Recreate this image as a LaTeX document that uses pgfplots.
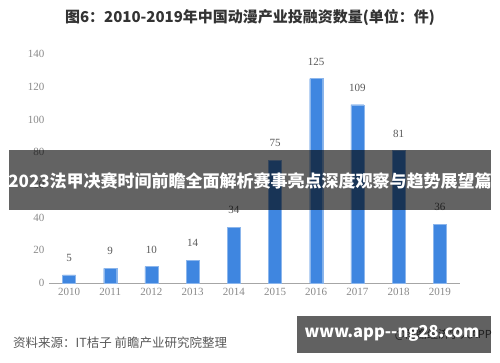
\documentclass[border=0pt]{standalone}
\usepackage{pgfplots}
\pgfplotsset{compat=1.18}
\usepackage{fontspec}
\setmainfont{Liberation Serif}
\newfontfamily\cjk{Noto Sans CJK SC}
\definecolor{barblue}{HTML}{3F86E0}
\definecolor{ticktxt}{HTML}{8A8A8A}
\begin{document}
\begin{tikzpicture}
\path[use as bounding box, fill=white] (0,0) rectangle (500pt,362pt);
\node[font=\cjk\bfseries\fontsize{15}{17}\selectfont, text=black!80] at (250pt,345pt) {图6：2010-2019年中国动漫产业投融资数量(单位：件)};
\begin{axis}[
  at={(69pt,79pt)}, anchor=origin,
  scale only axis, width=411pt, height=229pt,
  xmin=-0.485, xmax=9.49, ymin=0, ymax=140,
  ybar, bar width=13pt,
  axis lines*=left,
  axis line style={-},
  y axis line style={draw=none},
  x axis line style={draw=black!35, line width=0.8pt},
  major tick length=0pt,
  xtick={0,...,9},
  xticklabels={2010,2011,2012,2013,2014,2015,2016,2017,2018,2019},
  ytick={0,20,...,140},
  ticklabel style={font=\fontsize{11}{13}\selectfont, text=ticktxt},
  /pgf/number format/assume math mode=true,
  xticklabel style={yshift=-2pt},
  yticklabel style={xshift=-1pt},
  nodes near coords,
  every node near coord/.append style={anchor=center, yshift=17pt, font=\fontsize{11}{13}\selectfont, text=black!65},
]
\addplot[fill=barblue, draw=barblue!60!white, line width=0.4pt] coordinates {
(0,5) (1,9) (2,10) (3,14) (4,34) (5,75) (6,125) (7,109) (8,81) (9,36)};
\end{axis}
% banner overlay
\fill[black, opacity=0.61] (9pt,152pt) rectangle (491pt,212pt);
\node[font=\cjk\bfseries\fontsize{17}{19}\selectfont, text=white] at (250pt,181pt) {2023法甲决赛时间前瞻全面解析赛事亮点深度观察与趋势展望篇};
% source
\node[anchor=west, font=\cjk\fontsize{12.5}{14}\selectfont, text=black!65, inner sep=0pt] at (13pt,19pt) {资料来源：IT桔子 前瞻产业研究院整理};
\node[anchor=east, font=\cjk\fontsize{11}{13}\selectfont, text=black!70, inner sep=0pt] at (492pt,27pt) {@前瞻经济学人APP};
\fill[black, opacity=0.62] (297pt,9pt) rectangle (491pt,46pt);
\node[font=\cjk\bfseries\fontsize{16.5}{18}\selectfont, text=white] at (392pt,29pt) {www.app--ng28.com};
\end{tikzpicture}
\end{document}
